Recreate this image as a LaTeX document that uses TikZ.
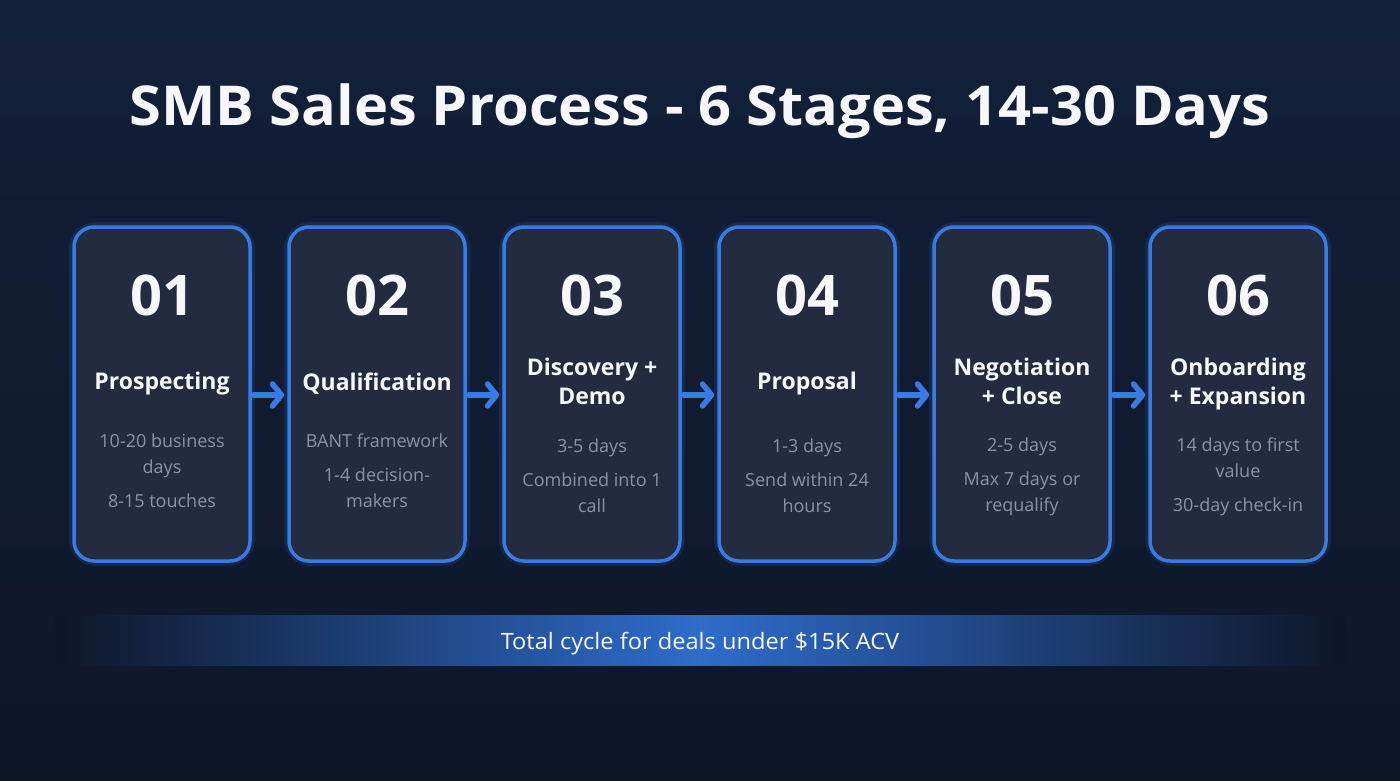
\documentclass[tikz,border=0pt]{standalone}
\usepackage{fontspec}
\setmainfont{Open Sans}
\newfontfamily\titlefont{Open Sans}[FakeStretch=1.05]
\newfontfamily\barfont{Open Sans}[FakeStretch=1.05]
\usetikzlibrary{arrows.meta}
\definecolor{bgtop}{HTML}{13203A}
\definecolor{bgbot}{HTML}{0E1628}
\definecolor{boxfill}{HTML}{222B40}
\definecolor{boxline}{HTML}{3A7BE2}
\definecolor{detailgray}{HTML}{8A94A7}
\definecolor{titlewhite}{HTML}{F5F7FA}
\definecolor{barblue}{HTML}{2F6CCB}
\tikzset{
  stagebox/.style={draw=boxline, line width=3.5pt, fill=boxfill, rounded corners=20pt,
    minimum width=176pt, minimum height=334pt, inner sep=0pt},
  glow/.style={draw=boxline, line width=10pt, draw opacity=0.15, rounded corners=22pt,
    minimum width=176pt, minimum height=334pt, inner sep=0pt},
  stagenum/.style={text=titlewhite, font=\fontsize{56}{60}\selectfont\bfseries, inner sep=0pt},
  stagename/.style={text=titlewhite, font=\fontsize{23}{29}\selectfont\bfseries, align=center, inner sep=0pt},
  detail/.style={text=detailgray, font=\fontsize{18}{26}\selectfont, align=center, inner sep=0pt},
  flow/.style={draw=boxline, line width=5.5pt, line cap=round,
    -{Straight Barb[length=9pt, width=22pt, round]}, shorten <=2pt, shorten >=3pt},
}
\begin{document}
\begin{tikzpicture}[x=1pt, y=-1pt]
\useasboundingbox (0,0) rectangle (1400,781);
\shade[top color=bgtop, bottom color=bgbot] (0,0) rectangle (1400,781);

% title
\node[text=titlewhite, font=\titlefont\fontsize{55}{60}\selectfont\bfseries, inner sep=0pt] (title) at (700,111) {SMB Sales Process - 6 Stages, 14-30 Days};

% boxes
\foreach \i/\x in {1/162,2/377,3/592,4/807,5/1022,6/1238}{
  \node[glow] (g\i) at (\x,394) {};
  \node[stagebox] (b\i) at (\x,394) {};
}

% numbers
\node[stagenum] (n1) at (162,295) {01};
\node[stagenum] (n2) at (377,295) {02};
\node[stagenum] (n3) at (592,295) {03};
\node[stagenum] (n4) at (807,295) {04};
\node[stagenum] (n5) at (1022,295) {05};
\node[stagenum] (n6) at (1238,295) {06};

% names
\node[stagename] (s1) at (162,384) {Prospecting};
\node[stagename] (s2) at (377,384) {Qualification};
\node[stagename] (s3) at (592,381) {Discovery +\\Demo};
\node[stagename] (s4) at (807,384) {Proposal};
\node[stagename] (s5) at (1022,381) {Negotiation\\+ Close};
\node[stagename] (s6) at (1238,384) {Onboarding\\+ Expansion};

% details
\node[detail] (d1) at (162,471) {10-20 business\\days\\[8pt]8-15 touches};
\node[detail] (d2) at (377,471) {BANT framework\\[8pt]1-4 decision-\\makers};
\node[detail] (d3) at (592,476) {3-5 days\\[8pt]Combined into 1\\call};
\node[detail] (d4) at (807,476) {1-3 days\\[8pt]Send within 24\\hours};
\node[detail] (d5) at (1022,477) {2-5 days\\[8pt]Max 7 days or\\requalify};
\node[detail] (d6) at (1238,477) {14 days to first\\value\\[8pt]30-day check-in};

% arrows
\foreach \a/\b in {1/2,2/3,3/4,4/5,5/6}{
  \draw[flow] ([yshift=-1pt]b\a.east) -- ([yshift=-1pt]b\b.west);
}

% bottom bar
\shade[left color=bgbot, right color=bgbot, middle color=barblue] (55,615) rectangle (1345,665);
\node[text=titlewhite, font=\barfont\fontsize{22.5}{26}\selectfont, inner sep=0pt] (total) at (700,644) {Total cycle for deals under \$15K ACV};
\end{tikzpicture}
\end{document}
